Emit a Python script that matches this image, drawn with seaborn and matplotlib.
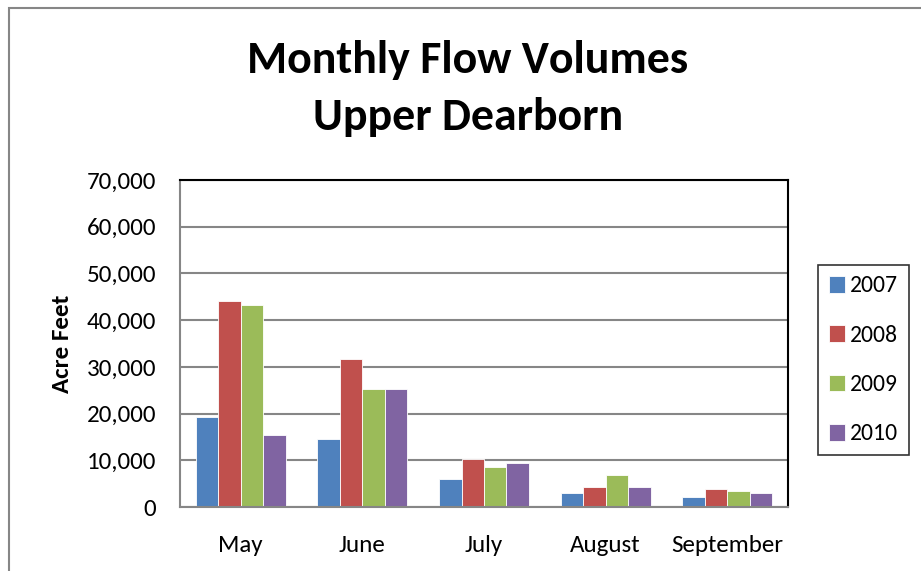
import matplotlib
matplotlib.use("Agg")
import matplotlib.pyplot as plt
import seaborn as sns
import pandas as pd
import numpy as np
from matplotlib.patches import Rectangle

months = ["May", "June", "July", "August", "September"]
years = ["2007", "2008", "2009", "2010"]
v2007 = [19300, 14600, 6000, 3000, 2100]
v2008 = [44000, 31600, 10300, 4300, 3900]
v2009 = [43200, 25200, 8600, 6900, 3400]
v2010 = [15400, 25200, 9400, 4300, 3000]
colors = ["#4F81BD", "#C0504D", "#9BBB59", "#8064A2"]

rows = []
for y, vals in zip(years, [v2007, v2008, v2009, v2010]):
    for m, v in zip(months, vals):
        rows.append({"Month": m, "Year": y, "Value": v})
df = pd.DataFrame(rows)

sns.set_theme(style="white")
FONT = ["Carlito", "Lato", "DejaVu Sans"]
plt.rcParams["font.family"] = FONT
plt.rcParams["text.color"] = "black"
plt.rcParams["axes.labelcolor"] = "black"
plt.rcParams["xtick.color"] = "black"
plt.rcParams["ytick.color"] = "black"

TS = 18

fig = plt.figure(figsize=(9.21, 5.71), dpi=100)
ax = fig.add_axes([180/921, 1-507/571, 608/921, 327/571])

sns.barplot(data=df, x="Month", y="Value", hue="Year", order=months,
            hue_order=years, palette=colors, width=0.74, ax=ax,
            edgecolor="white", linewidth=0.6, saturation=1, errorbar=None)

ax.set_ylim(0, 70000)
ax.set_xlim(-0.5, 4.5)
ax.set_yticks(np.arange(0, 70001, 10000))
ax.set_yticklabels([f"{int(t):,}" for t in np.arange(0, 70001, 10000)], fontsize=TS)
ax.yaxis.grid(True, color="#868686", linewidth=1.5)
ax.set_axisbelow(True)
ax.tick_params(axis="y", length=0, pad=17, colors="black")
ax.tick_params(axis="x", which="major", length=0, pad=20, labelsize=TS, colors="black")
ax.set_xticks(np.arange(-0.5, 4.6, 1), minor=True)
ax.tick_params(axis="x", which="minor", length=9, direction="inout", color="#868686", width=1.5)
ax.set_xlabel("")
ax.set_ylabel("Acre Feet", fontsize=TS, fontweight="bold", labelpad=10, color="black")

for s in ["top", "right"]:
    ax.spines[s].set_color("black")
    ax.spines[s].set_linewidth(1.5)
for s in ["left", "bottom"]:
    ax.spines[s].set_color("#868686")
    ax.spines[s].set_linewidth(1.5)

leg = ax.legend(loc="center left", bbox_to_anchor=(818/921, 1-360/571),
                bbox_transform=fig.transFigure, frameon=True, fontsize=17,
                handlelength=0.7, handleheight=0.7, handletextpad=0.2,
                labelspacing=1.2, borderpad=0.45, borderaxespad=0,
                fancybox=False)
leg.get_frame().set_edgecolor("black")
leg.get_frame().set_linewidth(1.2)

fig.text(468/921, 1-60/571, "Monthly Flow Volumes", ha="center", va="center",
         fontsize=33, fontweight="bold", color="black")
fig.text(468/921, 1-117/571, "Upper Dearborn", ha="center", va="center",
         fontsize=33, fontweight="bold", color="black")

fig.patches.append(Rectangle((9/921, -0.1), 1.2, 1-8/571+0.1, transform=fig.transFigure,
                             fill=False, edgecolor="#868686", linewidth=1.5))

fig.savefig("out.png", dpi=100)
